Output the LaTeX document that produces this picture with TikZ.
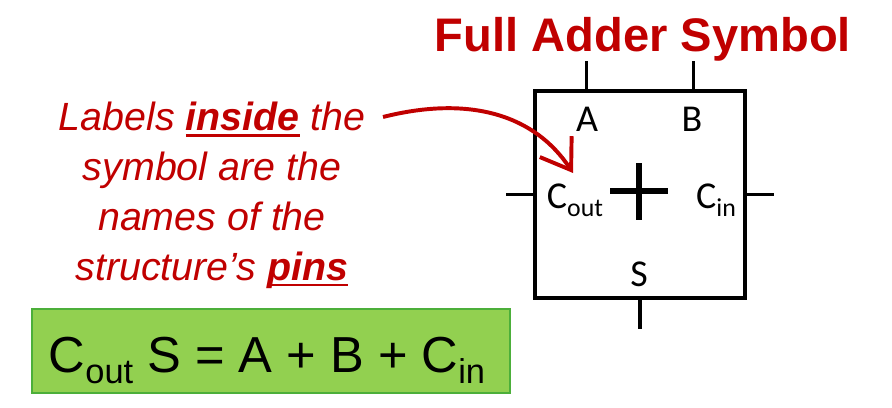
\documentclass[tikz,border=0pt]{standalone}
\usepackage{fontspec}
\setmainfont{Liberation Sans}
\newfontfamily\pinfont{Carlito}
\usepackage{graphicx}
\usetikzlibrary{positioning,arrows.meta,calc}
\definecolor{titlered}{HTML}{C00000}
\definecolor{notered}{HTML}{C00000}
\definecolor{eqgreen}{HTML}{92D050}
\definecolor{eqedge}{HTML}{4CAF3A}
\newcommand\lowsub[2]{#1\raisebox{-0.22em}{\scalebox{0.68}{#2}}}
\newcommand\thickul[1]{\setbox0\hbox{#1}\rlap{\copy0}\rule[-4.5pt]{\wd0}{1.8pt}}

\begin{document}
\begin{tikzpicture}[
  x=0.025cm, y=-0.025cm,
  pinlabel/.style={font=\pinfont\fontsize{27}{30}\selectfont, anchor=base, inner sep=0pt},
  pinline/.style={line width=2.3pt, draw=black}
]
\useasboundingbox (0,0) rectangle (892,407);

% Title
\node[font=\bfseries\fontsize{33.5}{36}\selectfont, color=titlered, anchor=base] (title) at (643,52) {Full Adder Symbol};

% Adder symbol
\node[draw, line width=2.3pt, minimum width=5.25cm, minimum height=5.175cm, inner sep=0pt] (adder) at (640,194.5) {};

% Pins
\coordinate (pa) at ($(adder.north west)!0.25!(adder.north east)$);
\coordinate (pb) at ($(adder.north west)!0.75!(adder.north east)$);
\foreach \p in {pa, pb} {
  \draw[pinline] (\p) -- ++(0,-28);
}
\draw[pinline] (adder.west) -- ++(-27,0);
\draw[pinline] (adder.east) -- ++(27,0);
\draw[pinline] (adder.south) -- ++(0,29);

% Pin names
\node[pinlabel] (la) at (587,131) {A};
\node[pinlabel] (lb) at (692,131) {B};
\node[pinlabel] (lcout) at (575,208) {\lowsub{C}{out}};
\node[pinlabel] (lcin) at (716,208) {\lowsub{C}{in}};
\node[pinlabel] (ls) at (639,286) {S};

% Plus sign
\coordinate (plus) at (639,191);
\draw[line width=4pt] ($(plus)+(-29,0)$) -- ($(plus)+(29,0)$);
\draw[line width=4pt] ($(plus)+(0,-28)$) -- ($(plus)+(0,29)$);

% Note (base = last line)
\node[font=\itshape\fontsize{28}{35.5}\selectfont, color=notered, align=center, anchor=base] (note) at (212,280)
  {Labels \thickul{\textbf{inside}} the\\symbol are the\\names of the\\structure’s \thickul{\textbf{pins}}};

% Arrow to the pin name
\coordinate (tail) at (383,117);
\coordinate (tip) at (573,173);
\draw[notered, line width=2.8pt, -{Straight Barb[length=7mm,width=9.5mm]}]
  (tail) .. controls (470,95) and (535,115) .. (tip);

% Equation
\node[fill=eqgreen, draw=eqedge, line width=1.5pt, minimum width=11.95cm, minimum height=2.1cm, inner sep=0pt] (eqbox) at (271,351) {};
\node[font=\fontsize{36}{40}\selectfont, anchor=base] (eq) at (267,372) {\lowsub{C}{out} S = A + B + \lowsub{C}{in}};

\end{tikzpicture}
\end{document}
